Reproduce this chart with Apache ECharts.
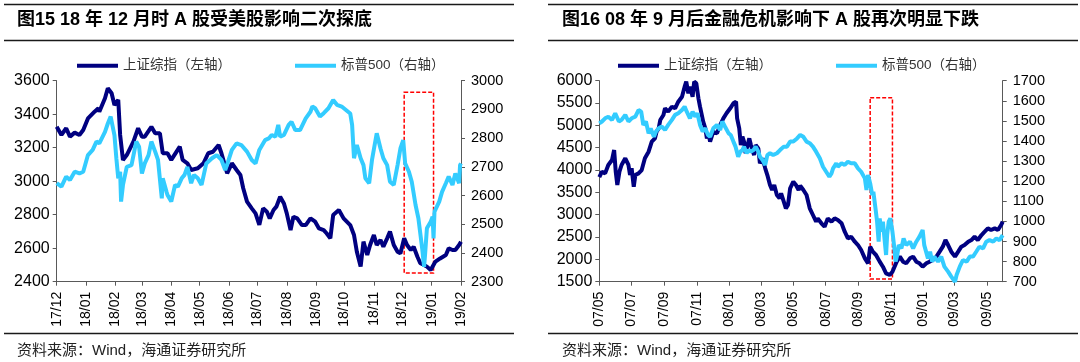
<!DOCTYPE html>
<html><head><meta charset="utf-8">
<script src="https://cdn.jsdelivr.net/npm/echarts@6/dist/echarts.min.js"></script>
<style>html,body{margin:0;padding:0;background:#fff}#c{width:1080px;height:362px}</style>
</head><body><div id="c"></div>
<script>
// ---------- texts ----------
const titleLeft = '图15 18 年 12 月时 A 股受美股影响二次探底';
const titleRight = '图16 08 年 9 月后金融危机影响下 A 股再次明显下跌';
const sourceText = '资料来源：Wind，海通证券研究所';
const nameSH = '上证综指（左轴）';
const nameSP = '标普500（右轴）';

// ---------- axis ticks ----------
const leftRange = ['2017-12-01', '2019-02-01'];
const rightRange = ['2007-05-01', '2009-05-31'];
const leftY1Ticks = [2400, 2600, 2800, 3000, 3200, 3400, 3600];
const leftY2Ticks = [2300, 2400, 2500, 2600, 2700, 2800, 2900, 3000];
const rightY1Ticks = [1500, 2000, 2500, 3000, 3500, 4000, 4500, 5000, 5500, 6000];
const rightY2Ticks = [700, 800, 900, 1000, 1100, 1200, 1300, 1400, 1500, 1600, 1700];

// ---------- highlight boxes ----------
const leftBox = [['2018-12-03', 2960], ['2019-01-03', 2330]];
const rightBox = [['2008-09-23', 1615], ['2008-11-04', 713]];

// ---------- data: chart 1 (2017/12 - 2019/02) ----------
const sh2018 = [
['2017-12-01',3325],['2017-12-06',3276],['2017-12-11',3316],['2017-12-15',3266],['2017-12-20',3290],
['2017-12-25',3276],['2017-12-29',3306],['2018-01-03',3375],['2018-01-10',3415],['2018-01-14',3435],
['2018-01-15',3415],['2018-01-21',3495],['2018-01-24',3555],['2018-01-28',3525],['2018-01-31',3455],
['2018-02-04',3485],['2018-02-06',3276],['2018-02-09',3127],['2018-02-13',3156],['2018-02-20',3236],
['2018-02-25',3316],['2018-03-01',3266],['2018-03-04',3266],['2018-03-11',3325],['2018-03-15',3286],
['2018-03-20',3286],['2018-03-23',3167],['2018-03-28',3167],['2018-04-01',3127],['2018-04-10',3206],
['2018-04-13',3127],['2018-04-18',3107],['2018-04-22',3067],['2018-04-29',3077],['2018-05-05',3107],
['2018-05-10',3167],['2018-05-15',3176],['2018-05-21',3216],['2018-05-24',3167],['2018-05-30',3047],
['2018-06-04',3107],['2018-06-09',3067],['2018-06-13',3037],['2018-06-16',2958],['2018-06-20',2878],
['2018-06-25',2838],['2018-06-29',2808],['2018-07-03',2739],['2018-07-07',2838],['2018-07-11',2818],
['2018-07-14',2778],['2018-07-18',2828],['2018-07-21',2848],['2018-07-25',2907],['2018-07-29',2867],
['2018-08-01',2808],['2018-08-05',2708],['2018-08-08',2788],['2018-08-12',2778],['2018-08-17',2738],
['2018-08-21',2738],['2018-08-26',2778],['2018-08-31',2758],['2018-09-04',2718],['2018-09-09',2708],
['2018-09-12',2689],['2018-09-16',2659],['2018-09-19',2798],['2018-09-25',2828],['2018-09-30',2778],
['2018-10-07',2738],['2018-10-11',2679],['2018-10-14',2579],['2018-10-18',2490],['2018-10-21',2639],
['2018-10-25',2559],['2018-10-28',2619],['2018-11-01',2679],['2018-11-04',2619],['2018-11-08',2649],
['2018-11-11',2609],['2018-11-15',2659],['2018-11-18',2699],['2018-11-22',2619],['2018-11-26',2579],
['2018-11-29',2569],['2018-12-03',2659],['2018-12-06',2619],['2018-12-10',2589],['2018-12-13',2609],
['2018-12-17',2549],['2018-12-20',2510],['2018-12-24',2500],['2018-12-27',2490],['2018-12-31',2470],
['2019-01-02',2460],['2019-01-05',2520],['2019-01-10',2539],['2019-01-16',2559],['2019-01-19',2599],
['2019-01-23',2589],['2019-01-26',2589],['2019-01-30',2619],['2019-02-01',2639]
];
const sp2018 = [
['2017-12-01',2643],['2017-12-06',2631],['2017-12-11',2666],['2017-12-15',2654],['2017-12-20',2683],
['2017-12-25',2677],['2017-12-29',2683],['2018-01-03',2741],['2018-01-08',2759],['2018-01-12',2788],
['2018-01-15',2782],['2018-01-21',2822],['2018-01-24',2851],['2018-01-27',2875],['2018-01-30',2826],
['2018-01-31',2810],['2018-02-02',2730],['2018-02-04',2660],['2018-02-06',2683],['2018-02-07',2579],
['2018-02-09',2637],['2018-02-13',2700],['2018-02-18',2706],['2018-02-23',2788],['2018-02-26',2770],
['2018-03-01',2677],['2018-03-04',2712],['2018-03-08',2741],['2018-03-11',2788],['2018-03-15',2753],
['2018-03-18',2724],['2018-03-22',2590],['2018-03-23',2660],['2018-03-27',2613],['2018-03-28',2602],
['2018-04-01',2579],['2018-04-05',2637],['2018-04-08',2631],['2018-04-12',2660],['2018-04-15',2672],
['2018-04-18',2700],['2018-04-22',2643],['2018-04-25',2672],['2018-04-29',2660],['2018-05-03',2637],
['2018-05-08',2712],['2018-05-14',2730],['2018-05-19',2741],['2018-05-24',2724],['2018-05-28',2689],
['2018-05-31',2718],['2018-06-04',2759],['2018-06-09',2782],['2018-06-14',2776],['2018-06-20',2753],
['2018-06-25',2724],['2018-06-29',2712],['2018-07-03',2759],['2018-07-09',2793],['2018-07-13',2799],
['2018-07-16',2811],['2018-07-20',2805],['2018-07-23',2846],['2018-07-25',2805],['2018-07-29',2811],
['2018-08-03',2846],['2018-08-06',2857],['2018-08-10',2828],['2018-08-15',2828],['2018-08-21',2869],
['2018-08-26',2892],['2018-08-28',2910],['2018-08-31',2904],['2018-09-05',2875],['2018-09-09',2887],
['2018-09-14',2904],['2018-09-19',2933],['2018-09-23',2916],['2018-09-28',2910],['2018-10-07',2886],
['2018-10-09',2846],['2018-10-11',2730],['2018-10-14',2776],['2018-10-16',2753],['2018-10-18',2730],
['2018-10-21',2706],['2018-10-23',2660],['2018-10-27',2643],['2018-10-30',2724],['2018-11-04',2817],
['2018-11-08',2764],['2018-11-11',2730],['2018-11-15',2706],['2018-11-18',2648],['2018-11-22',2637],
['2018-11-26',2706],['2018-11-29',2764],['2018-12-02',2793],['2018-12-04',2712],['2018-12-08',2683],
['2018-12-11',2648],['2018-12-15',2567],['2018-12-18',2521],['2018-12-22',2416],['2018-12-24',2352],
['2018-12-25',2392],['2018-12-27',2486],['2018-12-31',2509],['2019-01-02',2526],['2019-01-03',2451],
['2019-01-04',2544],['2019-01-09',2579],['2019-01-12',2613],['2019-01-16',2643],['2019-01-19',2666],
['2019-01-23',2637],['2019-01-26',2677],['2019-01-30',2643],['2019-01-31',2706],['2019-02-01',2712]
];

// ---------- data: chart 2 (2007/05 - 2009/05) ----------
const sh2008 = [
['2007-05-01',3840],['2007-05-06',3963],['2007-05-12',3925],['2007-05-18',4113],['2007-05-21',4075],
['2007-05-25',4225],['2007-05-29',4448],['2007-06-01',3963],['2007-06-04',3665],['2007-06-08',3963],
['2007-06-12',4113],['2007-06-19',4262],['2007-06-25',4113],['2007-06-28',3888],['2007-07-01',4038],
['2007-07-05',3627],['2007-07-08',3888],['2007-07-14',3925],['2007-07-20',4000],['2007-07-26',4262],
['2007-08-02',4410],['2007-08-08',4634],['2007-08-14',4709],['2007-08-17',4858],['2007-08-21',4933],
['2007-08-24',5120],['2007-08-30',5232],['2007-09-02',5382],['2007-09-08',5307],['2007-09-15',5419],
['2007-09-21',5382],['2007-09-27',5530],['2007-10-04',5642],['2007-10-09',5866],['2007-10-12',5978],
['2007-10-16',5717],['2007-10-19',5866],['2007-10-24',5642],['2007-10-27',5978],['2007-10-31',5940],
['2007-11-04',5605],['2007-11-07',5419],['2007-11-10',5382],['2007-11-13',5083],['2007-11-17',4933],
['2007-11-20',4709],['2007-11-23',4821],['2007-11-26',4634],['2007-12-02',4858],['2007-12-09',4821],
['2007-12-15',5008],['2007-12-21',5157],['2007-12-27',5270],['2008-01-03',5382],['2008-01-09',5494],
['2008-01-14',5531],['2008-01-16',5157],['2008-01-20',4933],['2008-01-23',4560],['2008-01-26',4746],
['2008-01-29',4634],['2008-02-01',4374],['2008-02-04',4523],['2008-02-08',4709],['2008-02-11',4560],
['2008-02-14',4560],['2008-02-17',4336],['2008-02-20',4560],['2008-02-25',4485],['2008-02-28',4150],
['2008-03-04',4262],['2008-03-09',4038],['2008-03-13',3888],['2008-03-18',3665],['2008-03-22',3553],
['2008-03-26',3665],['2008-03-31',3441],['2008-04-05',3366],['2008-04-08',3478],['2008-04-13',3291],
['2008-04-17',3143],['2008-04-21',3217],['2008-04-25',3591],['2008-05-01',3739],['2008-05-06',3665],
['2008-05-11',3553],['2008-05-14',3650],['2008-05-20',3553],['2008-05-26',3441],['2008-06-01',3143],
['2008-06-07',2993],['2008-06-13',2843],['2008-06-16',2918],['2008-06-23',2807],['2008-06-29',2731],
['2008-07-05',2918],['2008-07-12',2843],['2008-07-18',2918],['2008-07-24',2881],['2008-07-31',2807],
['2008-08-06',2619],['2008-08-12',2470],['2008-08-18',2508],['2008-08-25',2395],['2008-08-31',2321],
['2008-09-06',2209],['2008-09-13',2023],['2008-09-19',1911],['2008-09-23',2284],['2008-09-28',2172],
['2008-10-04',2098],['2008-10-11',1949],['2008-10-17',1836],['2008-10-23',1687],['2008-10-30',1650],
['2008-11-04',1724],['2008-11-12',1949],['2008-11-18',2061],['2008-11-24',1949],['2008-11-30',1911],
['2008-12-07',2023],['2008-12-13',2061],['2008-12-19',1949],['2008-12-25',1911],['2008-12-31',1836],
['2009-01-07',1911],['2009-01-13',1949],['2009-01-19',1986],['2009-01-26',2061],['2009-02-01',2172],
['2009-02-07',2284],['2009-02-12',2433],['2009-02-17',2321],['2009-02-23',2172],['2009-03-02',2061],
['2009-03-08',2172],['2009-03-14',2284],['2009-03-20',2321],['2009-03-27',2395],['2009-04-02',2433],
['2009-04-08',2508],['2009-04-14',2433],['2009-04-21',2545],['2009-04-27',2619],['2009-05-03',2694],
['2009-05-09',2657],['2009-05-16',2694],['2009-05-22',2657],['2009-05-28',2769],['2009-05-31',2843]
];
const sp2008 = [
['2007-05-01',1488],['2007-05-06',1497],['2007-05-12',1513],['2007-05-18',1521],['2007-05-25',1505],
['2007-05-31',1538],['2007-06-07',1497],['2007-06-12',1505],['2007-06-19',1530],['2007-06-25',1497],
['2007-07-01',1513],['2007-07-08',1521],['2007-07-14',1554],['2007-07-19',1546],['2007-07-23',1480],
['2007-07-28',1497],['2007-08-02',1438],['2007-08-06',1463],['2007-08-12',1421],['2007-08-16',1447],
['2007-08-21',1463],['2007-08-27',1472],['2007-09-02',1455],['2007-09-08',1480],['2007-09-15',1505],
['2007-09-21',1530],['2007-09-27',1538],['2007-10-04',1554],['2007-10-09',1571],['2007-10-13',1546],
['2007-10-19',1513],['2007-10-24',1546],['2007-10-29',1521],['2007-11-02',1538],['2007-11-07',1480],
['2007-11-12',1447],['2007-11-17',1463],['2007-11-22',1430],['2007-11-26',1421],['2007-12-02',1463],
['2007-12-09',1480],['2007-12-15',1455],['2007-12-19',1497],['2007-12-24',1472],['2007-12-31',1438],
['2008-01-04',1430],['2008-01-09',1397],['2008-01-13',1372],['2008-01-18',1322],['2008-01-22',1347],
['2008-01-26',1355],['2008-01-29',1372],['2008-02-03',1339],['2008-02-07',1355],['2008-02-11',1347],
['2008-02-16',1355],['2008-02-20',1372],['2008-02-25',1347],['2008-02-28',1322],['2008-03-04',1305],
['2008-03-09',1281],['2008-03-13',1330],['2008-03-18',1339],['2008-03-24',1330],['2008-03-31',1339],
['2008-04-06',1355],['2008-04-13',1372],['2008-04-19',1372],['2008-04-25',1397],['2008-05-01',1397],
['2008-05-08',1413],['2008-05-14',1430],['2008-05-20',1421],['2008-05-26',1397],['2008-06-01',1389],
['2008-06-07',1372],['2008-06-13',1347],['2008-06-20',1314],['2008-06-26',1272],['2008-07-02',1247],
['2008-07-08',1222],['2008-07-12',1239],['2008-07-15',1264],['2008-07-21',1289],['2008-07-24',1272],
['2008-07-31',1289],['2008-08-06',1281],['2008-08-12',1297],['2008-08-18',1289],['2008-08-25',1289],
['2008-08-31',1264],['2008-09-06',1247],['2008-09-13',1214],['2008-09-16',1156],['2008-09-19',1231],
['2008-09-23',1189],['2008-09-27',1131],['2008-09-29',1147],['2008-10-03',1065],['2008-10-06',999],
['2008-10-09',899],['2008-10-11',1015],['2008-10-14',949],['2008-10-17',999],['2008-10-20',915],
['2008-10-23',833],['2008-10-25',932],['2008-10-28',999],['2008-10-31',1015],['2008-11-04',949],
['2008-11-07',882],['2008-11-10',800],['2008-11-13',833],['2008-11-16',882],['2008-11-21',866],
['2008-11-25',915],['2008-11-30',882],['2008-12-07',899],['2008-12-13',866],['2008-12-19',899],
['2008-12-25',924],['2008-12-31',957],['2009-01-03',882],['2009-01-10',816],['2009-01-14',849],
['2009-01-18',800],['2009-01-22',825],['2009-01-29',800],['2009-02-04',825],['2009-02-10',775],
['2009-02-17',750],['2009-02-23',725],['2009-03-02',700],['2009-03-05',733],['2009-03-11',775],
['2009-03-17',808],['2009-03-24',800],['2009-03-30',825],['2009-04-05',825],['2009-04-11',849],
['2009-04-17',874],['2009-04-24',866],['2009-04-30',899],['2009-05-06',907],['2009-05-13',899],
['2009-05-19',915],['2009-05-25',907],['2009-05-31',932]
];

// ---------- helpers ----------
function dayList(a, b) {
  const out = [];
  let t = Date.parse(a + 'T00:00:00Z');
  const end = Date.parse(b + 'T00:00:00Z');
  while (t <= end) { out.push(new Date(t).toISOString().slice(0, 10)); t += 86400000; }
  return out;
}
const leftDays = dayList(leftRange[0], leftRange[1]);
const rightDays = dayList(rightRange[0], rightRange[1]);

const FONT = "'Liberation Sans', Arial, 'Noto Sans CJK SC', sans-serif";
const AXIS_COLOR = '#595959';
const DARK = '#000080';
const LIGHT = '#33CCFF';

const monthly = (i, v) => v.slice(8) === '01';
const bimonthly = (i, v) => v.slice(8) === '01' && (+v.slice(5, 7)) % 2 === 1;
const ymFmt = v => v.slice(2, 4) + '/' + v.slice(5, 7);

function xAxisCfg(grid, days, fn) {
  return {
    type: 'category', gridIndex: grid, data: days, boundaryGap: false,
    axisLine: { lineStyle: { color: AXIS_COLOR, width: 1 } },
    axisTick: { show: true, interval: fn, length: 4, lineStyle: { color: AXIS_COLOR } },
    axisLabel: { interval: fn, rotate: 90, formatter: ymFmt, fontSize: 14, color: '#000',
      fontFamily: FONT, margin: 10 },
    splitLine: { show: false }
  };
}
function yAxisCfg(grid, ticks, pos, fs, margin) {
  return {
    type: 'value', gridIndex: grid, position: pos,
    min: ticks[0], max: ticks[ticks.length - 1], interval: ticks[1] - ticks[0],
    axisLine: { show: true, lineStyle: { color: AXIS_COLOR, width: 1 } },
    axisTick: { show: true, length: 4, lineStyle: { color: AXIS_COLOR } },
    axisLabel: { fontSize: fs, color: '#000', fontFamily: FONT, margin: margin,
      formatter: v => String(v) },
    splitLine: { show: false }
  };
}
function lineSeries(name, data, xi, yi, color, z) {
  return { name, type: 'line', data, xAxisIndex: xi, yAxisIndex: yi, symbol: 'none',
    lineStyle: { color, width: 4 }, itemStyle: { color }, z, animation: false };
}
function boxArea(box) {
  return { silent: true,
    itemStyle: { color: 'rgba(0,0,0,0)', borderColor: '#FF0000', borderWidth: 1.5, borderType: [4, 2] },
    data: [[{ xAxis: box[0][0], yAxis: box[0][1] }, { xAxis: box[1][0], yAxis: box[1][1] }]] };
}

const chart = echarts.init(document.getElementById('c'), null, { renderer: 'canvas' });
const spL = lineSeries(nameSP, sp2018, 0, 1, LIGHT, 3);
spL.markArea = boxArea(leftBox);
const spR = lineSeries(nameSP, sp2008, 1, 3, LIGHT, 3);
spR.markArea = boxArea(rightBox);

const legendCfg = left => ({
  left, top: 59, itemWidth: 41, itemHeight: 4, itemGap: 64, padding: 0, icon: 'rect',
  data: [nameSH, nameSP],
  textStyle: { fontSize: 13.5, color: '#333', fontFamily: FONT }
});

chart.setOption({
  animation: false,
  backgroundColor: '#fff',
  title: [
    { text: titleLeft, left: 17, top: 11.5, padding: 0,
      textStyle: { fontSize: 18, fontWeight: 'bold', color: '#000', fontFamily: FONT } },
    { text: titleRight, left: 562, top: 11.5, padding: 0,
      textStyle: { fontSize: 18, fontWeight: 'bold', color: '#000', fontFamily: FONT } }
  ],
  legend: [legendCfg(77), legendCfg(618)],
  grid: [
    { left: 56.7, top: 80.7, width: 404.3, height: 201 },
    { left: 599.3, top: 80.7, width: 403.4, height: 201 }
  ],
  xAxis: [xAxisCfg(0, leftDays, monthly), xAxisCfg(1, rightDays, bimonthly)],
  yAxis: [
    yAxisCfg(0, leftY1Ticks, 'left', 16, 7),
    yAxisCfg(0, leftY2Ticks, 'right', 14.5, 10),
    yAxisCfg(1, rightY1Ticks, 'left', 16, 7),
    yAxisCfg(1, rightY2Ticks, 'right', 14.5, 10)
  ],
  series: [
    lineSeries(nameSH, sh2018, 0, 0, DARK, 2), spL,
    lineSeries(nameSH, sh2008, 1, 2, DARK, 2), spR
  ],
  graphic: [
    { type: 'line', shape: { x1: 4, y1: 4.5, x2: 514, y2: 4.5 }, style: { stroke: '#1a1a1a', lineWidth: 1.5 } },
    { type: 'line', shape: { x1: 4, y1: 40.5, x2: 514, y2: 40.5 }, style: { stroke: '#1a1a1a', lineWidth: 1.5 } },
    { type: 'line', shape: { x1: 4, y1: 333.5, x2: 514, y2: 333.5 }, style: { stroke: '#1a1a1a', lineWidth: 1.5 } },
    { type: 'line', shape: { x1: 548, y1: 4.5, x2: 1078, y2: 4.5 }, style: { stroke: '#1a1a1a', lineWidth: 1.5 } },
    { type: 'line', shape: { x1: 548, y1: 40.5, x2: 1078, y2: 40.5 }, style: { stroke: '#1a1a1a', lineWidth: 1.5 } },
    { type: 'line', shape: { x1: 548, y1: 333.5, x2: 1078, y2: 333.5 }, style: { stroke: '#1a1a1a', lineWidth: 1.5 } },
    { type: 'text', left: 17, top: 343, style: { text: sourceText, fontSize: 15, fill: '#222', fontFamily: FONT } },
    { type: 'text', left: 562, top: 343, style: { text: sourceText, fontSize: 15, fill: '#222', fontFamily: FONT } }
  ]
});
</script></body></html>
